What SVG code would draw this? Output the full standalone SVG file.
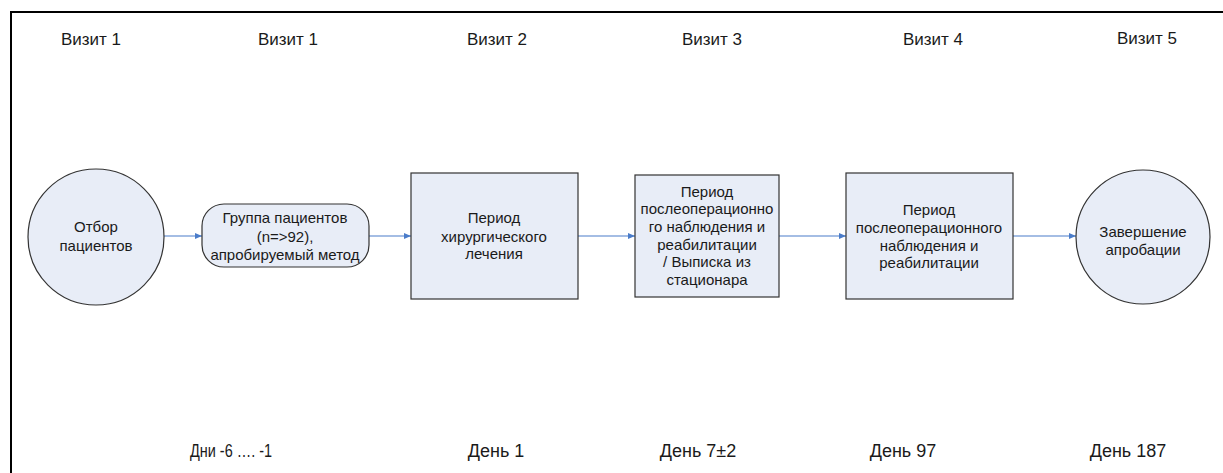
<svg xmlns="http://www.w3.org/2000/svg" width="1223" height="473" viewBox="0 0 1223 473">
<style>
  text { font-family: "Liberation Sans", Arial, sans-serif; fill: #1a1a1a; text-anchor: middle; }
  .hdr { font-size: 17px; }
  .day { font-size: 18px; }
  .lbl { font-size: 15px; }
  .shape { fill: #E8EDF7; stroke: #333333; stroke-width: 1.2; }
  .conn { stroke: #4A7CC9; stroke-width: 1.2; fill: none; marker-end: url(#arr); }
</style>
<defs>
  <marker id="arr" markerWidth="8" markerHeight="8" refX="7" refY="4" orient="auto" markerUnits="userSpaceOnUse">
    <path d="M0,1 L7,4 L0,7 Z" fill="#4A7CC9"/>
  </marker>
</defs>
<rect x="0" y="0" width="1223" height="473" fill="#ffffff"/>
<path d="M11,473 V12 H1223" fill="none" stroke="#000000" stroke-width="2"/>

<g id="headers">
  <text class="hdr" x="91" y="45">Визит 1</text>
  <text class="hdr" x="288" y="45">Визит 1</text>
  <text class="hdr" x="497" y="45">Визит 2</text>
  <text class="hdr" x="712" y="45">Визит 3</text>
  <text class="hdr" x="933" y="45">Визит 4</text>
  <text class="hdr" x="1147" y="44">Визит 5</text>
</g>

<g id="days">
  <text class="day" x="231" y="457" textLength="82" lengthAdjust="spacingAndGlyphs">Дни -6 …. -1</text>
  <text class="day" x="496" y="457">День 1</text>
  <text class="day" x="698" y="457">День 7±2</text>
  <text class="day" x="903" y="457">День 97</text>
  <text class="day" x="1128" y="457">День 187</text>
</g>

<g id="connectors">
  <line class="conn" x1="164" y1="236" x2="202" y2="236"/>
  <line class="conn" x1="369" y1="236" x2="411" y2="236"/>
  <line class="conn" x1="578" y1="236" x2="635" y2="236"/>
  <line class="conn" x1="779" y1="236" x2="846" y2="236"/>
  <line class="conn" x1="1013" y1="236" x2="1076" y2="236"/>
</g>

<g id="node-selection">
  <circle class="shape" cx="96" cy="237" r="68"/>
  <text class="lbl" x="96" y="232">Отбор</text>
  <text class="lbl" x="96" y="251">пациентов</text>
</g>

<g id="node-group">
  <rect class="shape" x="202" y="204" width="167" height="63" rx="22" ry="22"/>
  <text class="lbl" x="285" y="223">Группа пациентов</text>
  <text class="lbl" x="285" y="242">(n=&gt;92),</text>
  <text class="lbl" x="285" y="260">апробируемый метод</text>
</g>

<g id="node-surgery">
  <rect class="shape" x="411" y="173" width="167" height="126"/>
  <text class="lbl" x="494" y="223">Период</text>
  <text class="lbl" x="494" y="242">хирургического</text>
  <text class="lbl" x="494" y="259">лечения</text>
</g>

<g id="node-postop-discharge">
  <rect class="shape" x="635" y="175" width="144" height="122"/>
  <text class="lbl" x="707" y="197">Период</text>
  <text class="lbl" x="707" y="214">послеоперационно</text>
  <text class="lbl" x="707" y="232">го наблюдения и</text>
  <text class="lbl" x="707" y="250">реабилитации</text>
  <text class="lbl" x="707" y="267">/ Выписка из</text>
  <text class="lbl" x="707" y="285">стационара</text>
</g>

<g id="node-postop">
  <rect class="shape" x="846" y="173" width="167" height="126"/>
  <text class="lbl" x="929" y="215">Период</text>
  <text class="lbl" x="929" y="233">послеоперационного</text>
  <text class="lbl" x="929" y="251">наблюдения и</text>
  <text class="lbl" x="929" y="268">реабилитации</text>
</g>

<g id="node-end">
  <circle class="shape" cx="1143" cy="237" r="67"/>
  <text class="lbl" x="1143" y="237">Завершение</text>
  <text class="lbl" x="1143" y="255">апробации</text>
</g>
</svg>
